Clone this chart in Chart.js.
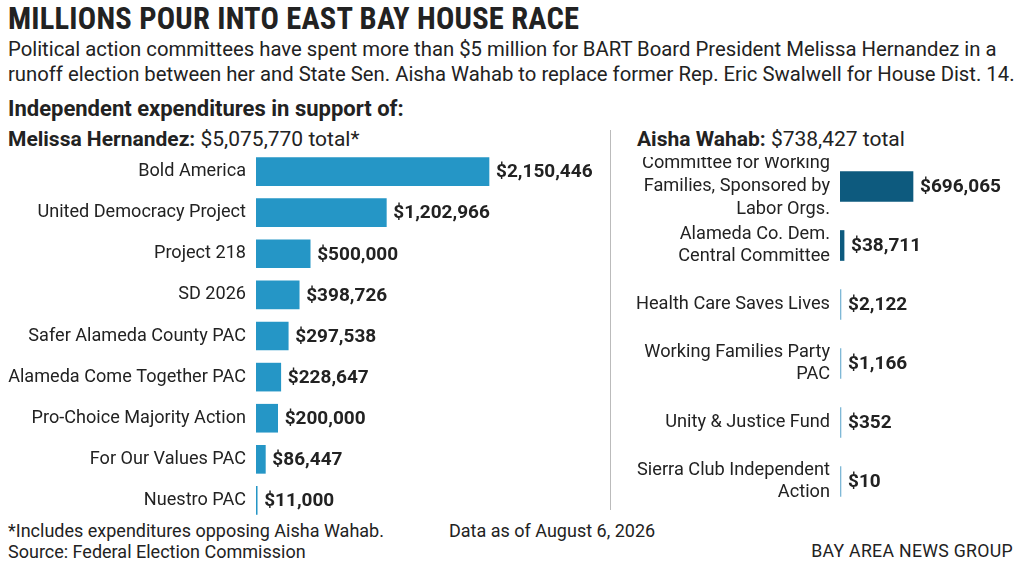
<!DOCTYPE html>
<html><head><meta charset="utf-8">
<script src="https://cdn.jsdelivr.net/npm/chart.js@4"></script>
<style>
body{margin:0;width:1024px;height:571px;background:#fff;font-family:Roboto,"Open Sans",sans-serif;color:#222;position:relative;overflow:hidden}
.t{position:absolute;white-space:nowrap}
#title{left:8px;top:1px;font:bold 30.5px "Liberation Sans Narrow","Roboto Condensed",Roboto,sans-serif;letter-spacing:0.2px}
#dek{left:8px;top:37px;font-size:20.3px;line-height:25px}
#sub{left:8px;top:96px;font-weight:bold;font-size:22px}
#lh{left:8px;top:127px;font-size:21px}
#rh{left:637px;top:127px;font-size:21px}
#rule{position:absolute;left:610px;top:130px;width:1px;height:380px;background:#bbb}
#f1{left:8px;top:520px;font-size:18px}
#f2{left:8px;top:541px;font-size:18px}
#f3{left:449px;top:520px;font-size:18px}
#f4{right:11px;top:541px;font-size:17.7px;letter-spacing:0.3px}
canvas{position:absolute}
</style></head><body>
<div class="t" id="title">MILLIONS POUR INTO EAST BAY HOUSE RACE</div>
<div class="t" id="dek">Political action committees have spent more than $5 million for BART Board President Melissa Hernandez in a<br>runoff election between her and State Sen. Aisha Wahab to replace former Rep. Eric Swalwell for House Dist. 14.</div>
<div class="t" id="sub">Independent expenditures in support of:</div>
<div class="t" id="lh"><b>Melissa Hernandez:</b> $5,075,770 total*</div>
<div class="t" id="rh"><b>Aisha Wahab:</b> $738,427 total</div>
<div id="rule"></div>
<div class="t" id="f1">*Includes expenditures opposing Aisha Wahab.</div>
<div class="t" id="f2">Source: Federal Election Commission</div>
<div class="t" id="f3">Data as of August 6, 2026</div>
<div class="t" id="f4">BAY AREA NEWS GROUP</div>
<canvas id="c1" width="600" height="370" style="left:0;top:151px"></canvas>
<canvas id="c2" width="400" height="354" style="left:620px;top:157px"></canvas>
<script>
const leftLabels=["Bold America","United Democracy Project","Project 218","SD 2026","Safer Alameda County PAC","Alameda Come Together PAC","Pro-Choice Majority Action","For Our Values PAC","Nuestro PAC"];
const leftValues=[2150446,1202966,500000,398726,297538,228647,200000,86447,11000];
const rightLabels=[["Committee for Working","Families, Sponsored by","Labor Orgs."],["Alameda Co. Dem.","Central Committee"],"Health Care Saves Lives",["Working Families Party","PAC"],"Unity & Justice Fund",["Sierra Club Independent","Action"]];
const rightValues=[696065,38711,2122,1166,352,10];
const rightColors=["#0d5a7e","#0d5a7e","#7fb8d6","#7fb8d6","#7fb8d6","#7fb8d6"];
const fmt=v=>"$"+v.toLocaleString("en-US");
const valPlugin={id:"vals",afterDatasetsDraw(ch){const c=ch.ctx;const m=ch.getDatasetMeta(0);c.save();c.font="bold 19px Roboto,sans-serif";c.fillStyle="#222";c.textBaseline="middle";m.data.forEach((b,i)=>{c.fillText(fmt(ch.data.datasets[0].data[i]),Math.max(b.x,b.base+1)+7,b.y+1);});c.restore();}};
function make(id,labels,values,colors,max,yw,th,fs){
 new Chart(document.getElementById(id),{type:"bar",data:{labels,datasets:[{data:values,backgroundColor:colors,barThickness:th,minBarLength:1}]},
 options:{indexAxis:"y",responsive:false,animation:false,layout:{padding:0},plugins:{legend:{display:false},tooltip:{enabled:false}},
 scales:{x:{display:false,min:0,max},y:{afterFit(s){s.width=yw;s.paddingTop=0;s.paddingBottom=0},grid:{display:false,drawTicks:false},border:{display:false},ticks:{padding:10,color:"#222",font:{family:"Roboto",size:fs,lineHeight:1.25},autoSkip:false}}}},plugins:[valPlugin]});
}
make("c1",leftLabels,leftValues,"#2596c6",2150446*(600-256)/233,256,28,18.1);
make("c2",rightLabels,rightValues,rightColors,696065*(400-220)/73,220,30,18.2);
</script></body></html>
